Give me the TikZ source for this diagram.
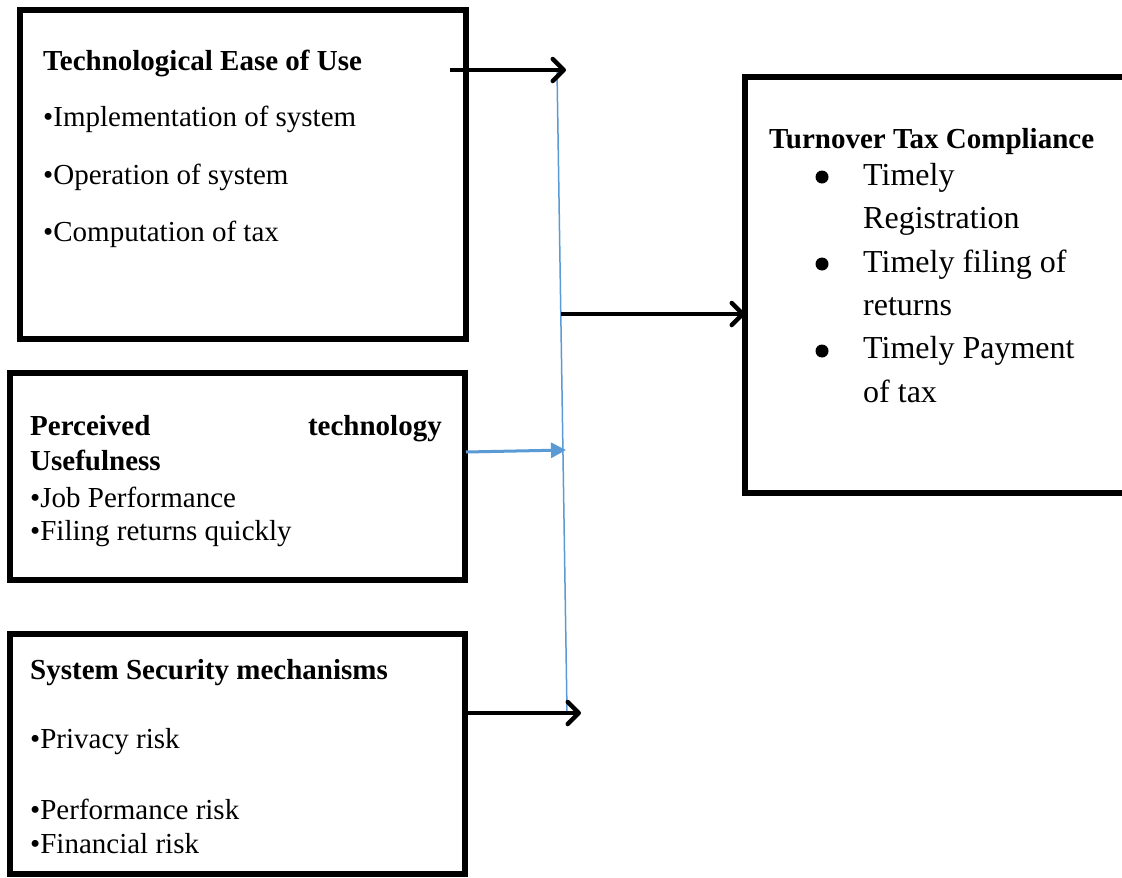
\documentclass[tikz,border=0pt]{standalone}
\usepackage{fontspec}
\setmainfont{Liberation Serif}
\usetikzlibrary{arrows.meta}
\definecolor{linkblue}{RGB}{91,155,213}
\begin{document}
\begin{tikzpicture}[x=1pt,y=-1pt,
  box/.style={draw=black,line width=5.5pt,rectangle,inner sep=0pt,outer sep=0pt},
  txt/.style={anchor=base west,inner sep=0pt,font=\fontsize{29}{34}\selectfont},
  hdr/.style={txt,font=\fontsize{29}{34}\selectfont\bfseries},
  big/.style={anchor=base west,inner sep=0pt,font=\fontsize{32}{38}\selectfont},
  dot/.style={circle,fill=black,inner sep=0pt,minimum size=13pt},
  blackarrow/.style={draw=black,line width=4.5pt,-{Straight Barb[length=11pt,width=22pt,line cap=round,line join=round]}},
  bluearrow/.style={draw=linkblue,line width=3pt,-{Triangle[length=15pt,width=15pt]}},
  blueline/.style={draw=linkblue,line width=1.5pt}]
\fill[white] (0,0) rectangle (1122,878);
\clip (0,0) rectangle (1122,878);
% boxes
\node[box,minimum width=446pt,minimum height=329pt] (b1) at (243,174.5) {};
\node[box,minimum width=455pt,minimum height=207pt] (b2) at (237.5,476.5) {};
\node[box,minimum width=455pt,minimum height=240pt] (b3) at (237.5,754) {};
\node[box,minimum width=390pt,minimum height=416pt] (b4) at (940,285) {};
% box 1 text
\node[hdr] (t1h) at (43,70) {Technological Ease of Use};
\node[txt] (t1a) at (43,126) {•Implementation of system};
\node[txt] (t1b) at (43,184) {•Operation of system};
\node[txt] (t1c) at (43,241) {•Computation of tax};
% box 2 text
\node[hdr] (t2h) at (30,435) {Perceived};
\node[hdr,anchor=base east] (t2h2) at (442,435) {technology};
\node[hdr] (t2u) at (30,470) {Usefulness};
\node[txt] (t2a) at (30,507) {•Job Performance};
\node[txt] (t2b) at (30,540) {•Filing returns quickly};
% box 3 text
\node[hdr] (t3h) at (30,679) {System Security mechanisms};
\node[txt] (t3a) at (30,748) {•Privacy risk};
\node[txt] (t3b) at (30,819) {•Performance risk};
\node[txt] (t3c) at (30,853) {•Financial risk};
% box 4 text
\node[hdr] (t4h) at (769,148) {Turnover Tax Compliance};
\node[dot] (d1) at (822,177) {};
\node[dot] (d2) at (822,264) {};
\node[dot] (d3) at (822,351) {};
\node[big] (t4a) at (863,185) {Timely};
\node[big] (t4b) at (863,228) {Registration};
\node[big] (t4c) at (863,272) {Timely filing of};
\node[big] (t4d) at (863,315) {returns};
\node[big] (t4e) at (863,358) {Timely Payment};
\node[big] (t4f) at (863,402) {of tax};
% connector points
\coordinate (s1) at (450,70);
\coordinate (e1) at (566,70);
\coordinate (vtop) at (557,70);
\coordinate (vbot) at (567,712);
\coordinate (s4) at (561,314);
\coordinate (s2) at (466,452);
\coordinate (e2) at (566,450);
\coordinate (s3) at (467,713);
\coordinate (e3) at (581,713);
% connectors
\draw[blueline] (vtop) -- (vbot);
\draw[blackarrow] (s1) -- (e1);
\draw[bluearrow] (s2) -- (e2);
\draw[blackarrow] (s3) -- (e3);
\draw[blackarrow] (s4) -- (s4 -| b4.west);
\end{tikzpicture}
\end{document}
